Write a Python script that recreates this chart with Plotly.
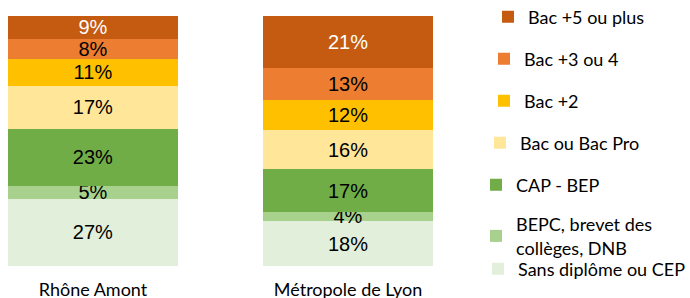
import plotly.graph_objects as go

categories = ["Rhône Amont", "Métropole de Lyon"]
series_names = [
    "Sans diplôme ou CEP",
    "BEPC, brevet des<br>collèges, DNB",
    "CAP - BEP",
    "Bac ou Bac Pro",
    "Bac +2",
    "Bac +3 ou 4",
    "Bac +5 ou plus",
]
rhone_amont = [27, 5, 23, 17, 11, 8, 9]
metropole_lyon = [18, 4, 17, 16, 12, 13, 21]

colors = ["#E2EFDA", "#A9D18E", "#70AD47", "#FFE699", "#FFC000", "#ED7D31", "#C55A11"]
text_colors = ["#000000"] * 6 + ["#FFFFFF"]

# legend placement (pixels in the 690x298 page): text start x, item centre y
legend_text_x = [519, 517, 517, 521, 525, 525, 529]
legend_center_y = [269, 236, 185, 143, 101, 59, 17]

W, H = 690, 298
x_pos = [0, 1]

fig = go.Figure()
legend_ids = ["legend7", "legend6", "legend5", "legend4", "legend3", "legend2", "legend"]
for i, name in enumerate(series_names):
    vals = [rhone_amont[i], metropole_lyon[i]]
    fig.add_trace(go.Bar(
        x=x_pos, y=vals, name=name,
        marker=dict(color=colors[i], line=dict(width=0)),
        width=0.667,
        text=[f"{v}%" for v in vals],
        textposition="inside",
        insidetextanchor="middle",
        textangle=0,
        constraintext="none",
        textfont=dict(family="Liberation Sans", size=20, color=text_colors[i]),
        legend=legend_ids[i],
        hoverinfo="skip",
    ))

layout_legends = {}
for i, lid in enumerate(legend_ids):
    layout_legends[lid] = dict(
        xref="container", yref="container",
        x=(legend_text_x[i] - 41) / W, xanchor="left",
        y=1 - legend_center_y[i] / H, yanchor="middle",
        font=dict(family="Lato", size=18, color="#000000"),
        bgcolor="rgba(0,0,0,0)",
        borderwidth=0,
    )

fig.update_layout(
    barmode="stack",
    barnorm="percent",
    width=W, height=H,
    margin=dict(l=8, r=257, t=16, b=32, autoexpand=False),
    paper_bgcolor="white", plot_bgcolor="white",
    showlegend=True,
    xaxis=dict(
        range=[-0.3333, 1.3333],
        tickvals=x_pos, ticktext=categories,
        showgrid=False, zeroline=False, showline=False, ticks="",
        tickfont=dict(family="Lato", size=18, color="#000000"),
        ticklabelstandoff=11,
    ),
    yaxis=dict(visible=False, range=[0, 100]),
    **layout_legends,
)

fig.write_html("out.html", config={"displayModeBar": False},
               post_script="document.body.style.margin='0';")
